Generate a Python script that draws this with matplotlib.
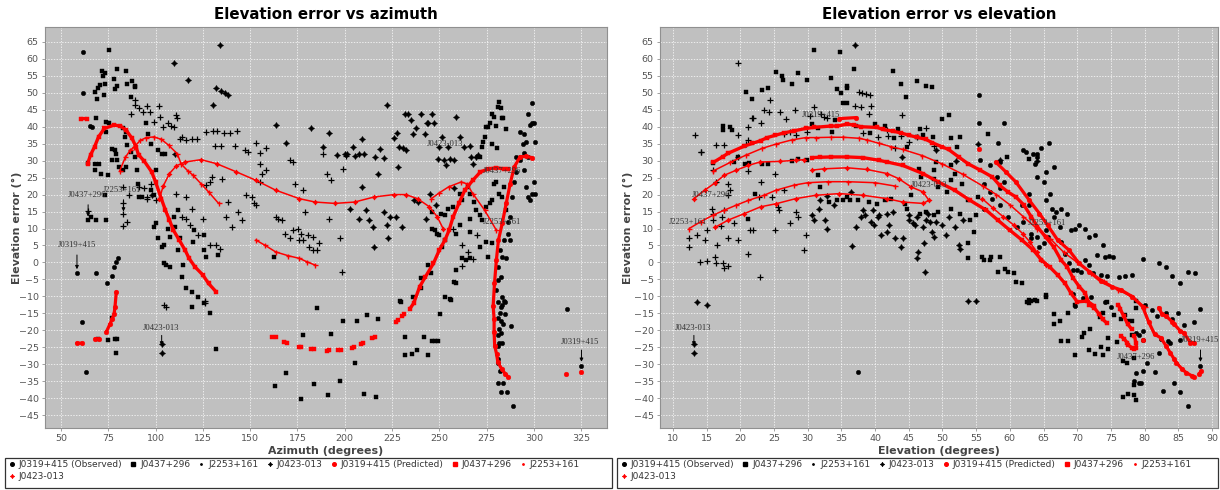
import numpy as np
import matplotlib
matplotlib.use("Agg")
import matplotlib.pyplot as plt
from matplotlib.patches import Rectangle
from matplotlib.lines import Line2D

# ---------------- DATA ----------------
SOURCES = ["J0319+415", "J0437+296", "J2253+161", "J0423-013"]

# ---- Left panel: (azimuth, elevation error) ----
AZ_J0319_OBS = [(61.6,62.0),(61.6,49.8),(58.4,-3.2),(61.0,-17.5),(63.2,-32.3),(65.3,40.2),(66.2,39.8),(68.5,-3.0),(74.2,-6.2),(76.7,-3.9),(78.0,-1.3),(79.0,0.2),(80.0,1.2),
    (281.0,-11.7),(283.1,-12.4),(284.2,-11.4),(284.6,-15.3),(282.1,-14.8),(281.0,-16.3),(282.5,-17.3),(283.8,-18.0),(281.4,-19.5),(282.5,-20.7),(281.7,-23.6),(283.1,-23.6),(281.0,-24.6),(281.0,-28.5),(281.0,-29.5),(282.1,-32.0),(281.0,-35.4),(283.8,-35.4),(282.5,-38.1),(285.8,-38.1),(288.8,-42.3),(287.9,-18.7),(281.0,-21.5),
    (280.9,-1.3),(282.4,-4.2),(280.9,-5.2),(279.8,-8.1),(283.2,-10.1),(284.7,-11.6),(282.6,-13.1),(282.1,3.6),(283.2,1.7),(285.3,1.2),(286.3,8.5),(287.4,6.6),(284.2,6.6),(286.3,12.0),(287.4,13.4),(288.4,19.3),(289.5,23.7),(290.5,26.6),(290.5,31.1),(292.6,30.1),(294.7,27.2),(295.8,22.3),(296.8,19.3),(297.9,18.3),(298.9,20.3),(300.0,23.7),(300.6,20.3),(292.6,38.5),(294.7,38.0),(294.3,35.0),(295.8,35.6),(294.7,32.2),(296.8,43.9),(297.9,40.5),(298.9,41.0),(298.9,47.1),(300.0,41.0),(300.6,35.6),(296.8,31.2),(292.6,31.2),
    (317.4,-13.8),(325.2,-30.5)]
AZ_J0437_OBS = [(68.5,42.5),(68.9,48.3),(67.9,50.3),(69.5,51.3),(70.8,52.3),(72.0,55.0),(71.6,56.5),(73.0,55.7),(72.5,49.5),(73.1,52.7),(73.7,41.5),(73.5,38.5),(75.2,41.2),(75.6,62.7),(77.9,54.2),(78.3,51.0),(79.4,52.0),(79.8,56.9),(76.9,33.3),(78.4,33.1),(78.8,32.0),(84.2,56.5),(85.1,52.5),(87.4,53.5),(86.8,48.8),(88.9,52.0),(89.3,51.6),(82.6,39.5),(83.6,37.0),(84.2,38.5),(85.1,34.5),(86.8,32.6),(94.7,41.0),(96.2,38.0),(97.7,35.0),(101.5,33.1),(103.5,32.1),(104.8,31.9),
    (64.1,29.3),(67.9,29.1),(70.0,29.1),(67.9,27.2),(71.0,26.2),(74.6,25.7),(73.1,19.8),(64.1,12.5),(65.8,13.4),(68.3,12.5),(73.7,12.5),
    (80.5,28.1),(79.6,30.3),(76.7,30.1),(83.0,27.2),(84.2,28.1),(88.9,31.1),(89.9,27.2),(90.5,23.2),(91.4,19.3),(92.6,19.3),(97.3,21.3),(99.4,19.8),(100.4,27.2),(99.4,10.5),(100.4,11.5),(101.5,7.1),(103.5,4.6),(104.6,5.1),(104.2,-0.3),(105.6,-0.8),(107.7,-1.3),(106.7,10.0),(107.7,7.5),(109.9,13.4),(110.3,10.5),(112.0,3.6),(113.1,7.1),(114.5,-0.8),(114.1,-4.2),(112.0,15.4),(120.3,9.5),(119.9,6.1),(125.6,8.0),(125.8,3.6),(126.7,1.7),(133.0,2.2),(116.2,-7.6),(119.3,-8.6),(122.5,-10.1),(125.6,-12.1),(119.3,-13.0),
    (69.5,-22.6),(74.6,-22.8),(77.0,-16.3),(78.4,-22.5),(79.8,-22.5),(78.8,-26.6),(128.8,-14.8),(132.1,-25.4),
    (163.0,-36.4),(168.7,-32.6),(177.1,-40.3),(178.2,-21.5),(183.8,-35.9),(185.1,-13.3),(192.9,-21.0),(191.4,-39.1),(197.6,-34.9),(199.3,-17.3),(205.2,-29.7),(206.3,-17.3),(210.3,-38.8),(211.6,-15.6),(216.6,-39.6),(217.6,-16.8),(162.4,1.7),
    (229.2,-11.4),(232.1,-27.3),(232.1,-21.9),(235.5,-26.9),(238.0,-25.9),(241.7,-22.0),(243.8,-27.4),(246.3,-23.1),(248.0,-23.1),(249.5,-23.1),(250.6,-15.3),(255.9,-10.9),
    (246.4,10.0),(248.0,9.5),(248.6,8.5),(249.6,8.0),(246.4,14.9),(250.7,14.4),(252.8,13.9),(254.8,15.9),(257.0,16.4),(261.2,20.3),(262.2,18.3),(265.3,22.3),(266.4,20.3),(268.5,17.8),(269.5,15.4),(271.6,13.9),(272.7,12.5),(274.8,16.4),(276.9,17.4),(277.9,18.3),(279.0,23.2),(280.0,23.7),(281.7,20.3),(283.2,19.3),(284.2,22.3),(285.3,15.4),
    (271.6,4.6),(274.8,6.1),(277.9,5.6),(275.8,1.7),(266.4,12.9),(266.4,9.0),(261.2,11.0),(259.1,8.5),(259.1,-2.3),(262.2,1.2),(264.3,0.7),(266.4,1.2),(259.1,-6.2),(258.0,-5.7),(252.8,-10.1),(256.0,-11.1),(240.5,-7.6),(244.1,-0.8),(245.7,-3.2),(240.5,-4.7),(236.3,-10.1),(229.6,-11.6),(251.7,4.6),(252.8,6.6),
    (271.6,31.2),(272.7,34.1),(274.8,40.0),(275.8,40.0),(276.9,41.0),(277.9,43.9),(279.0,42.9),(280.0,40.2),(281.0,45.9),(281.7,47.4),(282.6,45.4),(283.2,42.5),(283.8,42.6),(285.3,39.3),(277.9,34.9),(274.1,37.1),(273.3,35.6),(280.5,33.6)]
AZ_J2253_OBS = [(89.3,47.8),(86.8,43.9),(88.9,46.4),(91.0,45.4),(93.1,44.4),(95.6,46.1),(101.9,46.1),(96.8,44.4),(99.4,41.5),(102.5,42.9),(104.0,40.0),(106.7,41.0),(108.2,40.2),(109.9,40.0),(111.0,43.4),(111.5,42.5),(113.0,36.3),(114.0,37.1),(116.2,36.1),(119.3,36.3),(122.0,36.3),(126.7,38.5),(130.5,38.8),(132.6,38.7),(136.0,38.2),(139.3,38.2),(143.0,38.7),(131.5,34.3),(134.7,34.3),(141.8,34.4),(147.3,33.0),(148.7,32.6),(152.9,35.1),(155.0,32.2),(158.2,33.8),
    (64.1,15.2),(83.0,17.4),(83.0,14.4),(83.0,10.7),(85.7,19.8),(84.7,12.0),(82.6,22.3),(91.0,22.2),(94.1,21.8),(95.2,19.3),(95.6,18.8),(97.3,23.2),(100.4,18.3),(110.9,20.1),(114.1,13.4),(116.2,12.9),(118.3,11.0),(119.3,15.9),(122.5,8.0),(125.0,12.9),(128.8,5.1),(132.0,5.1),(134.0,4.1),(116.2,19.3),(126.7,22.7),(128.8,23.7),(130.0,25.2),(135.1,24.7),(138.2,17.8),(137.2,13.4),(140.3,10.5),(143.5,14.9),(145.6,12.5),(147.7,19.8),(150.8,19.3),(153.0,16.9),(155.0,23.7),(155.0,29.1),(151.9,17.4),(156.5,26.2),(158.2,27.2),(105.6,-13.0),(126.2,-12.1),(104.6,-12.6),(126.3,-11.4),
    (163.4,13.4),(164.5,12.9),(166.6,12.5),(168.3,8.5),(170.8,7.1),(170.8,30.1),(172.9,29.6),(173.9,23.2),(172.9,9.5),(175.4,10.0),(177.1,8.5),(176.0,6.6),(178.0,6.6),(180.5,8.0),(183.4,7.5),(181.3,4.6),(183.4,3.6),(185.5,3.6),(186.6,5.6),(178.1,21.3),(179.2,14.9),(188.4,32.1),(190.5,26.2),(192.6,24.2),(191.5,12.9),(197.3,7.1),(198.4,-2.9),(198.9,27.6),(200.9,31.5),
    (262.0,5.0),(265.0,3.0),(268.0,1.0),(270.0,8.0),(257.0,10.0),(262.0,-1.0)]
AZ_J0423_OBS = [(103.2,-24.1),(103.2,-26.8),(109.9,58.8),(117.2,53.7),(134.0,64.0),(130.3,46.4),(131.9,51.3),(134.7,50.6),(136.6,50.0),(138.3,49.3),(163.4,40.5),(168.7,35.1),(182.4,39.7),(188.7,34.1),(191.8,38.3),(196.0,31.7),(200.2,31.9),(201.3,31.9),(204.4,34.1),(209.0,36.3),(210.4,31.9),(216.0,31.2),(218.8,33.4),(220.9,30.7),(222.3,46.4),(225.9,36.7),(227.5,38.3),(228.5,34.1),(230.7,33.6),(231.7,43.9),(233.4,43.9),(234.9,42.0),(236.3,38.0),(237.6,39.5),(240.1,43.9),(242.2,38.0),(243.3,41.0),(244.3,41.2),(246.4,43.9),(247.4,41.2),(249.6,34.1),(251.7,37.1),(254.8,34.1),(259.0,42.9),(261.1,37.1),(263.2,34.1),(266.4,34.4),(269.5,31.2),
    (203.0,15.9),(205.2,31.5),(207.3,32.1),(207.3,12.9),(209.4,22.3),(211.5,15.4),(212.6,12.5),(214.7,10.5),(215.7,4.6),(217.8,26.2),(221.0,14.9),(222.1,11.0),(223.1,7.1),(224.1,13.4),(227.3,13.4),(230.5,10.5),(228.4,28.1),(232.5,33.0),(236.7,18.3),(238.8,17.8),(243.0,12.9),(245.1,20.3),(248.2,16.9),(249.3,30.6),(252.4,30.1),(253.5,28.6),(255.5,30.6),(257.6,30.1),(257.6,21.8),(267.0,31.1),(268.0,29.1),(270.3,31.6),(110.0,32.0),(98.0,20.0)]

# predicted (None separates curve pieces)
AZ_J0319_PRED = [(58.3,-23.8),(61.0,-23.8),None,(68.0,-22.5),(70.0,-22.5),None,(74.0,-20.4),(76.0,-18.0),(77.0,-16.6),(78.0,-15.3),(78.5,-13.2),(79.2,-8.7),None,
    (286.5,-33.8),(285.0,-32.9),(283.0,-31.4),(281.0,-29.4),(280.3,-27.0),(279.3,-24.5),(279.0,-20.6),(279.0,-16.7),(278.5,-12.8),(279.2,-6.2),(280.2,0.7),(281.3,6.6),(283.3,11.5),(285.4,17.4),(287.5,23.2),(289.6,28.1),(292.7,31.1),(295.8,31.3),(299.0,30.9),None,
    (317.2,-32.8),None,(325.0,-32.3)]
AZ_J0437_PRED = [(60.5,42.4),(63.5,42.4),None,
    (64.0,29.1),(65.6,31.7),(67.7,34.1),(69.8,37.0),(72.9,39.5),(78.1,40.5),(81.3,40.2),(84.4,39.0),(87.5,36.6),(89.6,34.1),(91.0,31.7),(93.8,30.0),(97.9,26.7),(100.0,23.7),(103.0,18.8),(105.2,15.4),(107.3,12.5),(109.4,9.5),(112.5,6.6),(115.6,3.6),(117.7,1.2),(120.8,-1.3),(125.0,-3.7),(128.0,-6.2),(131.9,-8.6),None,
    (161.5,-22.0),(163.5,-22.1),None,(167.7,-23.5),(169.4,-23.6),None,(176.0,-25.0),(177.1,-25.0),None,(182.3,-25.6),(183.7,-25.6),None,(190.6,-26.0),(191.7,-25.9),None,(196.3,-25.9),(198.0,-25.7),None,(203.8,-25.1),(204.9,-24.9),None,(208.4,-24.1),(209.9,-23.8),None,(214.6,-22.4),(216.1,-22.1),None,
    (227.0,-17.7),(228.1,-17.0),None,(230.2,-15.9),(231.5,-15.2),None,(234.4,-13.7),(236.5,-12.0),(239.6,-7.2),(242.7,-4.2),(246.9,-0.3),(250.0,3.6),(253.0,6.6),(255.2,9.5),(257.3,13.4),(260.4,17.4),(263.5,21.3),(267.7,24.2),(271.8,26.7),(276.0,27.6),(280.2,27.9),(284.4,27.6),(286.5,27.4)]
AZ_J2253_PRED = [(81.0,27.0),(84.0,31.0),(86.5,33.0),(88.5,34.0),(92.0,36.0),(95.0,36.8),(99.0,37.0),(103.0,36.3),(107.0,34.5),(111.5,32.0),(113.5,29.0),(117.0,27.0),(119.8,25.7),(124.0,23.2),(128.0,20.8),(133.3,17.4),None,
    (153.0,6.6),(158.0,5.0),(163.5,3.1),(170.0,2.0),(176.0,1.2),(180.0,0.2),(184.4,-0.8),None,
    (245.8,18.8),(250.0,20.5),(255.0,22.3),(261.5,23.7),(264.6,23.2),(267.7,20.3),(274.0,15.4),(280.2,9.5)]
AZ_J0423_PRED = [(102.0,18.8),(104.0,22.5),(107.3,26.2),(111.0,28.5),(115.6,29.6),(124.0,30.3),(132.3,29.1),(142.7,26.7),(153.1,24.2),(163.5,21.3),(176.0,18.8),(184.4,17.8),(194.8,17.4),(205.2,17.8),(215.6,19.3),(226.0,20.0),(232.3,20.0),(238.5,18.8),(244.8,16.4),(249.0,13.4),(252.0,10.0)]

# ---- Right panel: (elevation, elevation error) ----
EL_J0319_OBS = [(55.4,49.5),(55.4,41.0),(59.1,41.2),(58.2,35.3),(62.0,33.0),(64.1,31.9),(64.7,33.6),(65.8,35.1),(37.4,-32.3),
    (62.4,32.5),(63.5,32.1),(63.8,29.1),(64.1,31.1),(66.5,28.1),(65.3,26.7),(64.1,25.2),(65.0,23.7),(62.9,20.3),(61.8,16.9),(62.9,16.9),(62.0,12.0),(61.0,10.5),(59.7,13.4),(58.5,16.9),(58.5,21.8),(59.1,23.7),(58.1,25.2),(58.5,29.6),(57.1,28.6),(55.6,30.1),(56.2,23.2),(57.1,20.8),(57.4,18.8),(56.2,15.9),
    (63.2,8.5),(63.2,7.1),(64.1,7.6),(64.4,4.6),(65.0,5.6),(65.3,9.5),(65.6,7.6),(66.5,13.4),(67.4,10.5),(67.6,6.1),(68.2,2.6),(68.8,-0.3),(69.4,-2.3),(70.0,-2.3),(70.6,-2.7),(67.6,15.9),(68.5,14.4),(69.1,9.5),(69.7,10.0),(70.3,11.0),(71.2,10.0),(71.8,7.6),(72.6,8.0),(73.8,5.1),(74.1,1.7),(74.7,1.9),(75.3,1.7),(72.9,2.1),(71.2,0.7),(71.8,-0.8),(72.4,-3.2),(73.5,-3.7),(74.4,-4.0),(76.2,-4.2),(77.1,-4.0),(78.2,-3.7),(79.7,0.9),(82.1,-0.1),(83.2,-1.3),(84.1,-4.0),(85.3,-6.2),(86.5,-2.9),(87.5,-3.0),
    (69.4,-9.3),(70.9,-10.6),(72.1,-10.1),(74.1,-11.6),(75.0,-13.1),(69.7,-12.8),(65.9,20.3),(65.3,18.3),(66.2,15.9),(66.8,14.9),
    (78.8,-20.7),(79.1,-21.5),(79.7,-22.8),(80.0,-12.4),(80.3,-29.5),(79.8,-20.2),(79.7,-32.0),(81.6,-32.3),(81.8,-15.8),(81.1,-14.0),(82.1,-26.6),(82.5,-22.6),(82.8,-37.8),(83.2,-14.8),(83.5,-23.1),(83.8,-23.6),(84.1,-16.6),(84.4,-35.6),(85.0,-15.0),(85.3,-22.8),(85.3,-38.1),(85.9,-18.5),(86.5,-42.3),(87.4,-17.7),(88.2,-13.8),(88.3,-30.5),(78.5,-34.9),(78.7,-32.5),(79.1,-35.4),(79.4,-35.6)]
EL_J0437_OBS = [(17.4,40.2),(17.4,39.0),(18.5,40.0),(18.7,39.0),(20.9,50.3),(21.8,48.3),(23.2,50.8),(24.1,51.3),(25.3,56.2),(26.2,54.9),(26.3,53.7),(27.6,52.5),(28.5,55.7),(29.9,53.9),(30.9,62.7),(33.4,54.4),(34.4,51.0),(34.9,49.8),(34.8,62.0),(35.3,47.1),(35.8,52.0),(35.8,51.5),(35.9,47.1),(36.8,56.9),(37.1,40.2),(42.7,56.5),(43.8,52.5),(44.6,48.8),(46.2,53.5),(47.5,52.0),(48.4,51.6),(50.0,42.2),(51.0,43.4),
    (30.7,40.9),(31.5,39.5),(33.6,38.5),(34.1,41.9),(39.3,38.2),(40.0,40.9),(41.5,40.2),(42.8,36.6),(43.4,39.2),(44.7,34.1),(46.2,37.1),(46.6,39.2),(47.1,37.5),(48.6,37.1),(51.2,36.6),(52.6,36.9),(52.1,34.1),(56.7,38.0),(59.6,31.0),(62.9,30.4),
    (16.0,29.4),(19.1,29.6),(19.7,31.1),(20.7,29.1),(21.3,29.4),(21.2,12.9),(22.1,20.3),(23.2,29.1),(24.1,29.1),(27.6,29.8),(28.5,30.6),(29.9,30.1),(31.5,25.7),(31.8,22.3),(33.2,17.8),(34.4,18.3),(35.3,18.3),(35.8,19.3),(36.2,18.3),(37.5,18.3),(39.1,17.8),(40.3,17.3),(41.5,18.3),(42.4,18.8),(44.4,17.3),(44.7,15.9),(45.3,19.8),(46.6,14.4),(47.6,14.9),(48.8,13.9),(49.4,14.9),(51.2,15.9),(52.6,14.4),(55.3,19.3),(53.8,18.3),(52.9,23.2),(51.8,26.2),(51.2,24.2),(50.6,20.8),(49.4,22.3),(48.8,27.2),(49.1,29.6),(48.8,24.7),(51.2,28.6),(46.5,27.6),(46.8,25.2),
    (54.1,12.5),(54.7,9.0),(55.0,13.9),(53.8,5.6),(53.8,1.2),(55.9,1.7),(56.2,0.7),(57.1,0.7),(57.2,1.7),(58.2,-2.7),(58.5,1.7),(59.3,-2.0),(59.7,-2.7),(60.6,-3.2),(60.9,-5.7),(61.8,-6.2),(62.6,-11.6),(62.9,-11.1),(63.8,-11.1),(65.3,-9.6),(65.3,-10.1),
    (62.8,-12.1),(63.2,-11.4),(64.1,-11.4),(66.5,-15.1),(66.5,-18.2),(67.4,-17.3),(67.6,-23.1),(68.6,-23.1),(68.6,-14.8),(69.7,-27.4),(69.7,-12.5),(70.7,-21.9),(71.0,-20.7),(71.9,-19.5),(71.8,-25.8),(72.6,-27.1),(73.4,-16.0),(73.6,-24.8),(73.8,-15.0),(73.8,-27.4),(74.4,-11.7),(74.6,-22.2),(74.6,-25.4),(75.4,-15.6),(75.9,-23.4),(76.5,-16.8),(76.8,-29.0),(76.8,-39.8),(77.1,-15.6),(77.4,-29.5),(77.5,-38.9),(77.6,-17.3),(78.1,-17.3),(78.2,-21.5),(78.4,-28.3),(78.5,-36.2),(78.5,-39.1),(78.8,-40.5),(78.7,-13.3),(78.7,-11.4)]
EL_J2253_OBS = [(13.2,37.7),(14.2,32.6),(16.4,34.6),(17.6,34.6),(19.7,58.8),(19.7,37.7),(19.7,31.2),(20.9,34.9),(21.2,36.1),(21.9,42.5),(21.8,42.5),(21.1,39.8),(23.1,41.2),(23.5,44.9),(24.2,44.2),(24.4,47.8),(25.9,44.4),(26.5,38.0),(26.8,42.2),(28.1,44.9),(27.4,38.5),(28.2,37.5),(29.9,38.5),(30.3,43.1),(31.0,45.7),(31.9,43.8),(32.4,42.9),(32.8,42.5),(37.0,46.1),(37.6,50.3),(38.1,50.0),(38.7,49.6),(39.3,49.3),(37.9,45.9),(39.1,43.8),(39.4,46.1),(38.2,38.2),(40.5,37.1),(41.8,39.0),(41.9,37.3),(42.9,33.6),(43.9,37.3),(44.0,43.4),(45.0,35.6),(46.2,37.1),(47.6,39.5),(48.7,34.3),
    (14.2,32.5),(16.0,27.2),(16.4,23.7),(15.8,15.9),(16.0,12.5),(16.0,14.4),(12.4,7.1),(12.4,4.6),(13.6,8.0),(14.7,6.6),(15.1,9.5),(14.0,0.2),(15.0,0.4),(16.2,1.7),(16.5,5.1),(16.4,-0.3),(17.4,-0.3),(17.5,-1.5),(18.2,-1.1),(17.1,10.7),(17.2,13.4),(17.6,15.4),(18.1,19.8),(18.4,21.5),(18.2,23.2),(21.1,26.9),(21.5,9.5),(21.9,9.7),(21.1,2.6),(19.1,11.5),(18.2,7.1),(19.7,6.6),(22.9,-4.2),(22.7,19.3),(23.1,23.7),(24.7,19.3),(25.2,26.0),(25.2,9.5),(25.6,16.4),(25.7,15.4),(26.5,21.3),(27.4,11.7),(28.2,14.9),(28.5,13.4),(29.4,3.6),(29.7,8.2)]
EL_J0423_OBS = [(13.1,-24.1),(13.1,-26.8),(13.6,-11.7),(15.0,-12.6),(37.0,64.0),(30.6,14.0),(30.9,12.6),(31.8,18.3),(31.7,15.8),(32.6,12.5),(32.9,10.0),(32.9,19.5),(33.9,16.9),(36.4,20.8),(36.6,4.7),(37.1,10.5),(37.9,13.4),(38.2,15.4),(38.5,13.9),(39.4,12.0),(39.7,15.4),(39.9,11.0),(40.5,13.4),(40.6,13.9),(40.9,8.0),(41.8,9.0),(41.8,14.4),(42.1,11.0),(42.6,14.9),(42.9,7.1),(43.8,4.6),(44.1,7.1),(45.0,13.9),(45.1,12.5),(45.6,11.5),(45.9,11.0),(46.2,13.4),(46.4,3.1),(46.2,1.2),(47.1,10.5),(47.2,5.6),(47.4,-2.7),(47.6,12.5),(47.9,14.4),(48.2,12.0),(48.5,9.0),(48.8,7.5),(49.1,12.0),(50.0,11.0),(50.5,8.2),(50.9,13.4),(51.8,10.5),(52.4,5.1),(52.6,4.1),(53.0,12.5),
    (53.8,-11.4),(55.0,-11.4),(44.0,31.0),(49.0,33.0),(52.0,30.0),(55.3,35.0),(58.5,30.2),(64.0,30.0)]

EL_J0319_PRED = [(34.7,42.4),(37.2,42.7),None,(55.4,33.3),None,
    (57.9,29.6),(59.4,26.7),(60.9,23.7),(62.9,18.3),(64.4,14.4),(65.6,11.0),(67.1,6.6),(68.8,3.6),(70.3,-0.3),(71.8,-2.7),(73.5,-5.5),(75.2,-7.2),(76.5,-8.1),(78.2,-10.1),(79.7,-13.0),(80.6,-17.5),(81.5,-21.2),(82.4,-22.2),(83.2,-24.6),(83.8,-26.6),(84.4,-28.5),(84.7,-29.5),(85.6,-31.5),(86.2,-32.5),(87.0,-33.4),(87.4,-33.9),None,
    (82.1,-13.3),(82.6,-15.3),(83.2,-15.8),(84.1,-17.5),(84.4,-18.2),(85.3,-20.2),(85.8,-20.7),(86.8,-23.6),(87.4,-23.6),None,
    (79.7,-22.8),None,(88.1,-32.9),(88.4,-32.0)]
EL_J0437_PRED = [(16.0,29.5),(17.4,31.2),(18.2,32.2),(20.6,34.3),(21.8,35.1),(23.0,35.9),(24.0,36.8),(25.2,37.5),(26.5,38.2),(28.0,38.8),(29.7,39.5),(30.9,39.8),(33.4,40.2),(34.4,40.2),(35.9,40.8),(36.8,40.5),(37.9,40.0),(40.3,39.8),(41.2,39.2),(42.6,38.7),(43.8,38.2),(45.0,37.5),(46.2,36.9),(47.5,36.3),(48.5,35.3),(49.9,34.1),(50.9,33.3),(52.4,31.1),(53.8,29.1),(55.6,27.2),(57.4,25.2),(58.5,22.7),(59.7,20.8),(60.9,19.3),(62.1,16.9),(63.2,13.4),(64.1,10.5),(65.3,7.5),(66.5,4.6),(67.6,0.7),(68.5,-1.3),(69.4,-4.6),(70.3,-7.1),(71.2,-9.1),(71.8,-12.5),(72.5,-13.3),(73.3,-15.3),(73.8,-16.8),(74.4,-17.9),None,
    (76.5,-21.7),(77.0,-22.6),(77.4,-23.6),(77.6,-24.4),(78.1,-25.1),(78.5,-25.6),(78.8,-25.1),(78.7,-23.6),(78.5,-21.7),None,
    (30.6,30.9),(31.8,31.0),(33.5,31.1),(35.9,31.1),(38.2,30.9),(40.6,30.1),(41.8,29.6),(44.1,28.6),(47.1,26.2),(49.4,23.7),(51.8,21.3),(54.1,18.3),(56.5,15.4),(58.2,12.5),(60.0,9.5),(61.8,6.6),(63.5,3.6),(64.7,0.7),(65.9,-1.3),(67.1,-3.7),(68.2,-6.2),(69.1,-9.1),(70.0,-11.6),(71.5,-11.4),(72.5,-12.8),None,
    (76.1,-12.4),(76.4,-13.8),(76.9,-15.8),(77.5,-18.2),(78.1,-19.7)]
EL_J2253_PRED = [(12.4,10.0),(14.1,12.0),(15.9,13.9),(17.6,15.4),(19.4,16.9),(21.2,18.3),(23.5,19.8),(25.3,21.3),(28.0,22.8),(30.0,23.5),(33.0,23.8),(36.0,23.8),(40.0,23.5),(43.0,22.5),None,
    (16.0,27.0),(18.5,29.5),(20.9,31.7),(23.2,33.6),(25.3,34.9),(27.6,36.1),(29.7,36.8),(31.2,36.8),(33.5,36.9),(35.3,36.9),(37.6,36.6),(38.8,36.1),(40.6,35.1),(42.4,34.1),(44.1,33.3),(47.0,31.5),(50.0,29.0),(53.0,26.0),(56.0,22.5),(58.0,20.0),(60.0,17.0),(62.0,13.5),(64.0,10.0),(66.0,7.0),(68.0,3.0),(70.0,0.0),(72.0,-3.0),(74.0,-5.5),(76.0,-8.0),(78.0,-10.0),(80.0,-13.0)]
EL_J0423_PRED = [(13.1,18.8),(14.7,21.3),(16.2,23.4),(17.6,25.7),(19.4,27.2),(21.2,28.6),(22.9,29.6),(25.9,29.8),(28.2,30.1),(29.4,30.3),None,
    (16.2,10.3),(18.2,12.5),(20.6,14.4),(23.0,16.4),(25.3,17.3),(28.2,18.8),(31.2,19.8),(34.7,20.3),(38.2,19.8),(41.8,18.8),(44.1,17.8),(47.1,17.4),(48.0,18.3),(47.1,20.8),(45.3,22.3),(43.5,24.7),(41.8,26.2),(38.8,27.4),(35.9,27.9),(32.4,27.6),(30.6,27.2),None,
    (55.9,18.8),(57.5,16.0),(59.0,13.5),(60.6,11.0),(61.9,8.5),(63.0,6.0),(64.0,3.0),(64.7,0.7),(65.3,-0.8)]

# labels drawn on the plots: (text, x, y)
AZ_LABELS = [("J0319+415", 58.5, 5.0), ("J0437+296", 63.5, 20.0), ("J2253+161", 82.0, 21.5),
             ("J0423-013", 103.0, -19.2), ("J0423-013", 253.0, 35.0), ("J0437+296", 283.0, 27.0),
             ("J2253+161", 283.0, 12.0), ("J0319+415", 324.5, -23.5)]
AZ_ARROWS = [(58.4, 2.2, -2.0), (64.3, 17.0, 13.5), (83.0, 18.5, 15.0), (103.2, -21.5, -24.5), (325.2, -25.8, -29.3)]
EL_LABELS = [("J0319+415", 32.0, 43.5), ("J0437+296", 15.7, 20.0), ("J2253+161", 12.2, 12.0),
             ("J0423-013", 13.0, -19.2), ("J0423-013", 48.0, 22.8), ("J2253+161", 65.5, 11.5),
             ("J0437+296", 78.7, -27.8), ("J0319+415", 88.2, -23.0)]
EL_ARROWS = [(13.1, -21.5, -24.5), (88.3, -25.8, -29.3)]

LEGEND_LABELS = ["J0319+415 (Observed)", "J0437+296", "J2253+161", "J0423-013",
                 "J0319+415 (Predicted)", "J0437+296", "J2253+161", "J0423-013"]

# ---------------- DRAWING ----------------
W, H = 1220, 490
fig = plt.figure(figsize=(W / 100, H / 100), dpi=100)
fig.patch.set_facecolor("white")

def px_axes(x0, y0, x1, y1):
    return fig.add_axes([x0 / W, 1 - y1 / H, (x1 - x0) / W, (y1 - y0) / H])

def xy(pts):
    a = np.array([(np.nan, np.nan) if p is None else p for p in pts], dtype=float)
    return a[:, 0], a[:, 1]

STAR4 = (4, 1, 0)
OBS_STYLE = {
    0: dict(marker="o", ms=3.2, mfc="black", mec="black", mew=0.3),
    1: dict(marker="s", ms=3.2, mfc="black", mec="black", mew=0.3),
    2: dict(marker="+", ms=4.0, mec="black", mew=0.9),
    3: dict(marker=STAR4, ms=4.2, mfc="black", mec="black", mew=0.6),
}
RED = "#FF0000"
PRED_STYLE = {
    0: dict(marker="o", ms=3.4, mfc=RED, mec=RED, mew=0.3, lw=2.3),
    1: dict(marker="s", ms=3.4, mfc=RED, mec=RED, mew=0.3, lw=2.4),
    2: dict(marker="+", ms=3.6, mec=RED, mew=1.0, lw=1.1),
    3: dict(marker=STAR4, ms=3.6, mfc=RED, mec=RED, mew=0.6, lw=1.1),
}

def style_axes(ax, xlim, xticks, title, xlabel, ylab_x):
    ax.set_facecolor("#C0C0C0")
    ax.set_xlim(*xlim)
    ax.set_ylim(-48.8, 69.4)
    ax.set_xticks(xticks)
    ax.set_yticks(np.arange(-45, 66, 5))
    ax.grid(True, color="white", linestyle=(0, (2, 2)), linewidth=0.5)
    ax.set_axisbelow(True)
    for s in ax.spines.values():
        s.set_color("#909090")
        s.set_linewidth(0.8)
    ax.tick_params(axis="both", labelsize=6.8, labelcolor="#555555", color="#909090",
                   length=2.5, width=0.6, pad=2)
    ax.set_title(title, fontsize=10.8, fontweight="bold", color="black", pad=6)
    ax.set_xlabel(xlabel, fontsize=7.9, fontweight="bold", color="#444444", labelpad=2)
    ax.set_ylabel("Elevation error (°)", fontsize=7.9, fontweight="bold", color="#444444")
    ax.yaxis.set_label_coords(ylab_x, 0.5)

def draw_panel(ax, obs, pred, labels, arrows):
    for i, pts in enumerate(obs):
        x, y = xy(pts)
        ax.plot(x, y, linestyle="none", zorder=3, **OBS_STYLE[i])
    for i, pts in enumerate(pred):
        x, y = xy(pts)
        st = dict(PRED_STYLE[i])
        lw = st.pop("lw")
        ax.plot(x, y, color=RED, linewidth=lw, solid_capstyle="round", zorder=4, **st)
    for s, x, y in labels:
        ax.text(x, y, s, ha="center", va="center", fontsize=6.2, family="Liberation Serif",
                color="#333333", zorder=6)
    for x, y0, y1 in arrows:
        ax.annotate("", xy=(x, y1), xytext=(x, y0), zorder=6,
                    arrowprops=dict(arrowstyle="-|>", lw=0.7, color="black",
                                    mutation_scale=5, shrinkA=0, shrinkB=0))

axL = px_axes(45, 27, 607, 428)
style_axes(axL, (41.5, 338.7), np.arange(50, 326, 25), "Elevation error vs azimuth",
           "Azimuth (degrees)", (22 - 45) / 562)
draw_panel(axL, [AZ_J0319_OBS, AZ_J0437_OBS, AZ_J2253_OBS, AZ_J0423_OBS],
           [AZ_J0319_PRED, AZ_J0437_PRED, AZ_J2253_PRED, AZ_J0423_PRED], AZ_LABELS, AZ_ARROWS)

axR = px_axes(660, 27, 1218, 428)
style_axes(axR, (8.07, 90.9), np.arange(10, 91, 5), "Elevation error vs elevation",
           "Elevation (degrees)", (633 - 660) / 558)
draw_panel(axR, [EL_J0319_OBS, EL_J0437_OBS, EL_J2253_OBS, EL_J0423_OBS],
           [EL_J0319_PRED, EL_J0437_PRED, EL_J2253_PRED, EL_J0423_PRED], EL_LABELS, EL_ARROWS)

# legends
def legend_handles():
    return [Line2D([], [], linestyle="none", marker="o", ms=2.6, color="black"),
            Line2D([], [], linestyle="none", marker="s", ms=2.6, color="black"),
            Line2D([], [], linestyle="none", marker=".", ms=2.0, color="black"),
            Line2D([], [], linestyle="none", marker=STAR4, ms=3.2, color="black", mew=0.5),
            Line2D([], [], linestyle="none", marker="o", ms=2.6, color=RED),
            Line2D([], [], linestyle="none", marker="s", ms=2.6, color=RED),
            Line2D([], [], linestyle="none", marker=".", ms=2.0, color=RED),
            Line2D([], [], linestyle="none", marker=STAR4, ms=3.2, color=RED, mew=0.5)]

for (x0, x1) in [(5, 612), (617, 1218)]:
    fig.patches.append(Rectangle((x0 / W, 1 - 488 / H), (x1 - x0) / W, 30 / H,
                                 transform=fig.transFigure, facecolor="white",
                                 edgecolor="#333333", linewidth=0.9, zorder=1))
    hs = legend_handles()
    order = [0, 7, 1, 2, 3, 4, 5, 6]
    leg = fig.legend([hs[k] for k in order], [LEGEND_LABELS[k] for k in order],
                     loc="upper left", bbox_to_anchor=((x0 + 3) / W, 1 - 459 / H),
                     ncol=7, frameon=False, fontsize=6.5, handlelength=0.6,
                     handletextpad=0.5, columnspacing=0.9, borderaxespad=0,
                     borderpad=0.1, labelspacing=0.35)
    for t in leg.get_texts():
        t.set_color("#333333")

fig.savefig("out.png", dpi=100, facecolor="white")
